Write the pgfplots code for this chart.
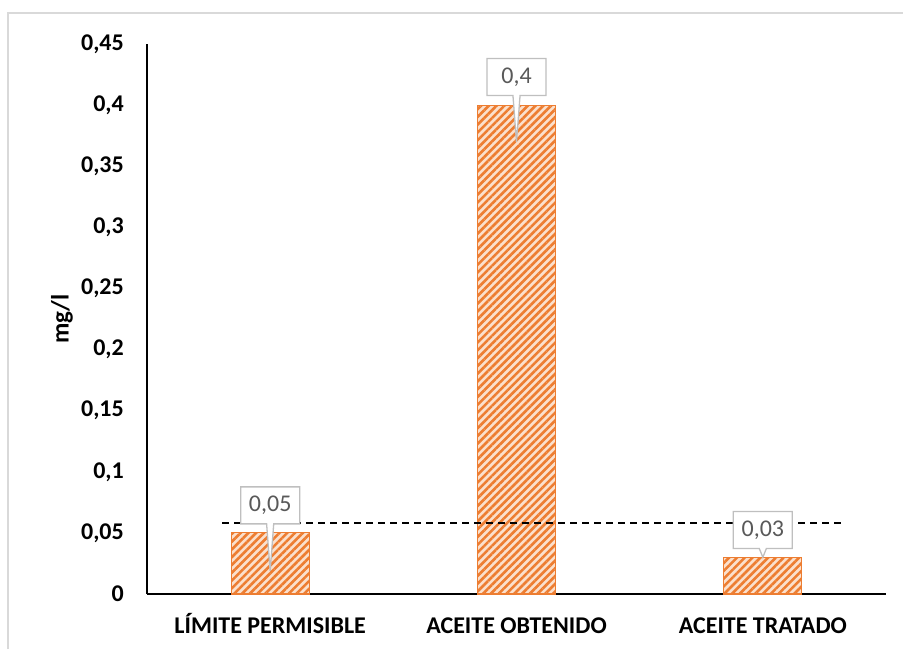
\documentclass[border=0pt]{standalone}
\usepackage{fontspec}
\setmainfont{Carlito}
\usepackage{pgfplots}
\pgfplotsset{compat=1.18}
\usetikzlibrary{patterns.meta,shapes.callouts}
\definecolor{barorange}{HTML}{ED7D31}
\definecolor{barpeach}{HTML}{FBE0CC}
\definecolor{labelgray}{HTML}{595959}
\definecolor{boxgray}{HTML}{BFBFBF}
\definecolor{framegray}{HTML}{D9D9D9}
\begin{document}
\begin{tikzpicture}[x=1pt,y=1pt]
\useasboundingbox (0,0) rectangle (903,649);
% chart frame
\draw[framegray, line width=1.5pt] (8,0) -- (8,636) -- (905,636);
\begin{axis}[
  at={(147pt,55pt)}, anchor=south west,
  scale only axis, width=739pt, height=550pt,
  xmin=-0.5, xmax=2.5, ymin=0, ymax=0.45,
  xtick=data,
  xticklabels={LÍMITE PERMISIBLE, ACEITE OBTENIDO, ACEITE TRATADO},
  ytick={0,0.05,...,0.45},
  axis x line*=bottom, axis y line*=left,
  axis line style={black, line width=1.2pt, -},
  major tick length=0pt,
  yticklabel style={font=\fontsize{24}{28}\selectfont\bfseries, black, inner sep=0pt, anchor=east, xshift=-23pt},
  xticklabel style={font=\fontsize{24}{28}\selectfont\bfseries, black, inner sep=0pt, anchor=base, yshift=-39pt},
  /pgf/number format/.cd, assume math mode=true, use comma, fixed, precision=2,
  /pgfplots/.cd,
  ylabel={\fontsize{25}{29}\selectfont\bfseries mg/l},
  every axis y label/.style={at={(axis description cs:0,0.5)}, xshift=-85pt, rotate=90, anchor=center, inner sep=0pt},
  clip=false,
]
\addplot[ybar, bar width=78pt, bar shift=0pt, draw=barorange, line width=1.2pt,
  fill=barpeach,
  postaction={pattern={Lines[angle=45,distance=5.5pt,line width=2.6pt]}, pattern color=barorange}]
  coordinates {(0,0.05) (1,0.4) (2,0.03)};
% dashed reference line
\addplot[black, line width=1.3pt, dash pattern=on 7pt off 5pt]
  coordinates {(-0.195,0.058) (2.325,0.058)};
% value callouts
\begin{scope}[every node/.style={rectangle callout, draw=boxgray, line width=1.3pt, fill=white,
    text=labelgray, font=\fontsize{24}{28}\selectfont, minimum width=59pt, minimum height=37pt, inner sep=2pt}]
\node[callout absolute pointer={(axis cs:0,0.019)}] at (axis cs:0,0.0725) {0,05};
\node[callout absolute pointer={(axis cs:1,0.37)}] at (axis cs:1,0.423) {0,4};
\node[callout absolute pointer={(axis cs:2,0.030)}] at (axis cs:2,0.0524) {0,03};
\end{scope}
\end{axis}
\end{tikzpicture}
\end{document}
